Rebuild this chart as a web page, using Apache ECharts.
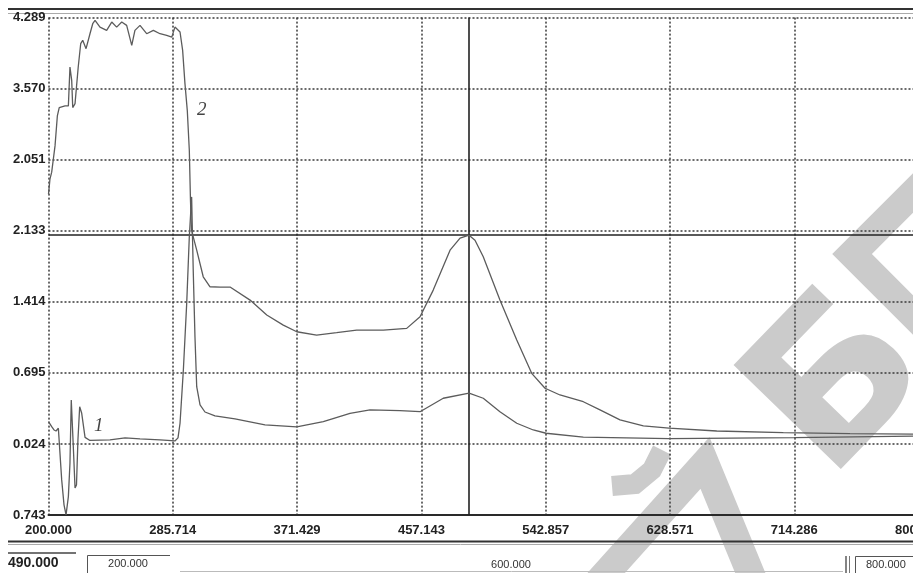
<!DOCTYPE html>
<html>
<head>
<meta charset="utf-8">
<script src="https://cdn.jsdelivr.net/npm/echarts@6/dist/echarts.min.js"></script>
<style>
html,body{margin:0;padding:0;background:#fff;}
#chart{width:913px;height:573px;}
</style>
</head>
<body>
<div id="chart"></div>
<script>
// ---- data ----
const xTickValues = [200, 285.714, 371.429, 457.143, 542.857, 628.571, 714.286, 800];
const xTickLabels = ["200.000", "285.714", "371.429", "457.143", "542.857", "628.571", "714.286", "800.000"];
const yTickValues = [-0.743, -0.024, 0.695, 1.414, 2.133, 2.851, 3.570, 4.289];
const yTickLabels = ["0.743", "0.024", "0.695", "1.414", "2.133", "2.051", "3.570", "4.289"];

// curve 2 (upper)
const wl2 = [200.0, 201.0, 202.2, 204.5, 206.1, 207.4, 211.4, 213.7, 214.8, 216.0, 216.7, 218.3, 220.5, 222.2, 223.6, 225.9, 228.6, 230.5, 232.1, 235.5, 240.1, 243.6, 247.0, 250.5, 253.9, 257.4, 259.6, 263.1, 267.7, 272.3, 276.9, 281.5, 285.0, 287.2, 290.7, 292.5, 294.1, 295.7, 297.1, 297.9, 298.6, 302.2, 306.7, 311.4, 318.3, 325.2, 339.0, 350.5, 361.9, 371.2, 384.9, 398.7, 412.5, 430.9, 447.0, 456.2, 465.3, 476.9, 483.8, 490.0, 494.1, 499.8, 511.3, 522.9, 533.2, 542.4, 552.7, 568.8, 580.3, 594.1, 610.2, 627.9, 660.8, 706.7, 752.7, 800.0];
const abs2 = [2.503, 2.655, 2.725, 2.991, 3.294, 3.379, 3.395, 3.395, 3.789, 3.654, 3.379, 3.419, 3.789, 4.025, 4.059, 3.975, 4.126, 4.227, 4.261, 4.193, 4.160, 4.244, 4.193, 4.244, 4.210, 4.008, 4.160, 4.210, 4.126, 4.160, 4.126, 4.109, 4.092, 4.193, 4.143, 3.957, 3.621, 3.351, 2.947, 2.442, 2.139, 1.937, 1.667, 1.566, 1.563, 1.563, 1.431, 1.280, 1.178, 1.111, 1.077, 1.101, 1.128, 1.128, 1.145, 1.262, 1.532, 1.936, 2.058, 2.088, 2.037, 1.869, 1.431, 1.027, 0.690, 0.539, 0.471, 0.403, 0.320, 0.219, 0.158, 0.135, 0.107, 0.090, 0.080, 0.075];

// curve 1 (lower)
const wl1 = [200.0, 202.2, 203.8, 205.2, 206.8, 209.1, 210.7, 212.1, 213.7, 214.8, 215.7, 217.1, 218.3, 219.3, 220.3, 221.5, 222.9, 225.2, 228.6, 242.4, 252.8, 263.1, 276.9, 287.2, 289.3, 290.7, 293.0, 295.3, 297.1, 298.7, 299.8, 301.0, 302.2, 304.5, 307.9, 314.8, 328.6, 349.3, 371.2, 389.5, 407.9, 421.7, 442.4, 456.2, 472.2, 490.0, 499.8, 511.3, 522.9, 534.3, 543.1, 568.8, 627.9, 714.1, 800.0];
const abs1 = [0.201, 0.151, 0.117, 0.107, 0.135, -0.388, -0.640, -0.741, -0.557, -0.219, 0.421, -0.051, -0.469, -0.438, 0.016, 0.353, 0.286, 0.042, 0.011, 0.016, 0.037, 0.027, 0.016, 0.006, 0.037, 0.185, 0.724, 1.398, 2.071, 2.475, 1.734, 1.060, 0.555, 0.370, 0.299, 0.259, 0.229, 0.168, 0.148, 0.201, 0.286, 0.320, 0.313, 0.302, 0.438, 0.491, 0.438, 0.302, 0.185, 0.117, 0.084, 0.044, 0.030, 0.040, 0.055];

const cursorX = 490.0;
const cursorY = 2.088;
const cursorLabel = "490.000";
const rangeLabels = ["200.000", "600.000", "800.000"];

// ---- build ----
function zip(a, b) { return a.map((v, i) => [v, b[i]]); }
function labelFor(values, labels, v) {
  let best = 0, d = Infinity;
  values.forEach((t, i) => { const dd = Math.abs(t - v); if (dd < d) { d = dd; best = i; } });
  return labels[best];
}

const gridDot = { color: '#3a3a3a', width: 1.5, type: [2, 2] };
const lineCol = '#5c5c5c';
const lblFont = { fontFamily: 'Liberation Sans', fontWeight: 'bold', fontSize: 13, color: '#222' };
const wmColor = '#cbcbcb';
const wmBand = (pts, w) => ({ type: 'polyline', z: -10, silent: true, shape: { points: pts },
  style: { stroke: wmColor, lineWidth: w, fill: null, lineCap: 'butt', lineJoin: 'miter' } });

const chart = echarts.init(document.getElementById('chart'), null, { renderer: 'canvas' });
chart.setOption({
  animation: false,
  backgroundColor: '#fff',
  grid: { left: 48.5, top: 17.6, right: -5.6, bottom: 58, containLabel: false, outerBoundsMode: 'none' },
  xAxis: {
    type: 'value', min: 200, max: 800,
    axisLine: { show: true, onZero: false, lineStyle: { color: '#2a2a2a', width: 2 } },
    axisTick: { show: false, customValues: xTickValues },
    axisLabel: Object.assign({ customValues: xTickValues, margin: 9,
      formatter: v => labelFor(xTickValues, xTickLabels, v) }, lblFont),
    splitLine: { show: true, lineStyle: gridDot }
  },
  yAxis: {
    type: 'value', min: -0.743, max: 4.289,
    axisLine: { show: false },
    axisTick: { show: false, customValues: yTickValues },
    axisLabel: Object.assign({ customValues: yTickValues, margin: 3,
      formatter: v => labelFor(yTickValues, yTickLabels, v) }, lblFont),
    splitLine: { show: true, lineStyle: gridDot }
  },
  series: [
    {
      name: '2', type: 'line', data: zip(wl2, abs2), showSymbol: false, smooth: false,
      lineStyle: { color: lineCol, width: 1.3 }, z: 5,
      markLine: {
        silent: true, symbol: 'none', label: { show: false },
        lineStyle: { color: '#222', width: 1.6, type: 'solid' },
        data: [{ xAxis: cursorX }, { yAxis: cursorY }]
      }
    },
    {
      name: '1', type: 'line', data: zip(wl1, abs1), showSymbol: false, smooth: false,
      lineStyle: { color: lineCol, width: 1.3 }, z: 5
    }
  ],
  graphic: [
    // watermark
    { type: 'text', x: 716, y: 374, rotation: 0.8, z: -10, silent: true,
      style: { text: 'Б', font: 'bold 205px "DejaVu Sans"', fill: wmColor, textAlign: 'left', textVerticalAlign: 'top' } },
    wmBand([[598, 582], [705, 463], [754, 582]], 28),
    wmBand([[612, 486], [635, 484], [652, 470], [662, 450]], 20),
    wmBand([[928, 178], [852, 254], [928, 330]], 28),
    // frame lines
    { type: 'line', shape: { x1: 8, y1: 9, x2: 913, y2: 9 }, style: { stroke: '#333', lineWidth: 2 } },
    { type: 'line', shape: { x1: 8, y1: 13.5, x2: 913, y2: 13.5 }, style: { stroke: '#aaa', lineWidth: 1 } },
    { type: 'line', shape: { x1: 8, y1: 541.5, x2: 913, y2: 541.5 }, style: { stroke: '#333', lineWidth: 2 } },
    { type: 'line', shape: { x1: 8, y1: 544.5, x2: 913, y2: 544.5 }, style: { stroke: '#aaa', lineWidth: 1 } },
    { type: 'line', shape: { x1: 8, y1: 553, x2: 76, y2: 553 }, style: { stroke: '#444', lineWidth: 1.5 } },
    { type: 'text', x: 8, y: 563, style: { text: cursorLabel, font: 'bold 14px "Liberation Sans"', fill: '#222', textVerticalAlign: 'middle' } },
    { type: 'polyline', shape: { points: [[87.5, 573], [87.5, 555.5], [170, 555.5]] }, style: { stroke: '#555', lineWidth: 1, fill: null } },
    { type: 'text', x: 128, y: 564, style: { text: rangeLabels[0], font: '11px "Liberation Sans"', fill: '#333', textAlign: 'center', textVerticalAlign: 'middle' } },
    { type: 'line', shape: { x1: 180, y1: 571.5, x2: 843, y2: 571.5 }, style: { stroke: '#bbb', lineWidth: 1 } },
    { type: 'text', x: 511, y: 565, style: { text: rangeLabels[1], font: '11px "Liberation Sans"', fill: '#333', textAlign: 'center', textVerticalAlign: 'middle' } },
    { type: 'line', shape: { x1: 846, y1: 556, x2: 846, y2: 573 }, style: { stroke: '#333', lineWidth: 1.2 } },
    { type: 'line', shape: { x1: 849.5, y1: 556, x2: 849.5, y2: 573 }, style: { stroke: '#777', lineWidth: 1 } },
    { type: 'polyline', shape: { points: [[855.5, 573], [855.5, 556.5], [913, 556.5]] }, style: { stroke: '#555', lineWidth: 1, fill: null } },
    { type: 'text', x: 866, y: 565, style: { text: rangeLabels[2], font: '11px "Liberation Sans"', fill: '#333', textVerticalAlign: 'middle' } },
    // curve annotations
    { type: 'text', x: 197, y: 110, z: 10, style: { text: '2', font: 'italic 19px "Liberation Serif"', fill: '#444', textVerticalAlign: 'middle' } },
    { type: 'text', x: 94, y: 426, z: 10, style: { text: '1', font: 'italic 19px "Liberation Serif"', fill: '#444', textVerticalAlign: 'middle' } }
  ]
});
</script>
</body>
</html>
